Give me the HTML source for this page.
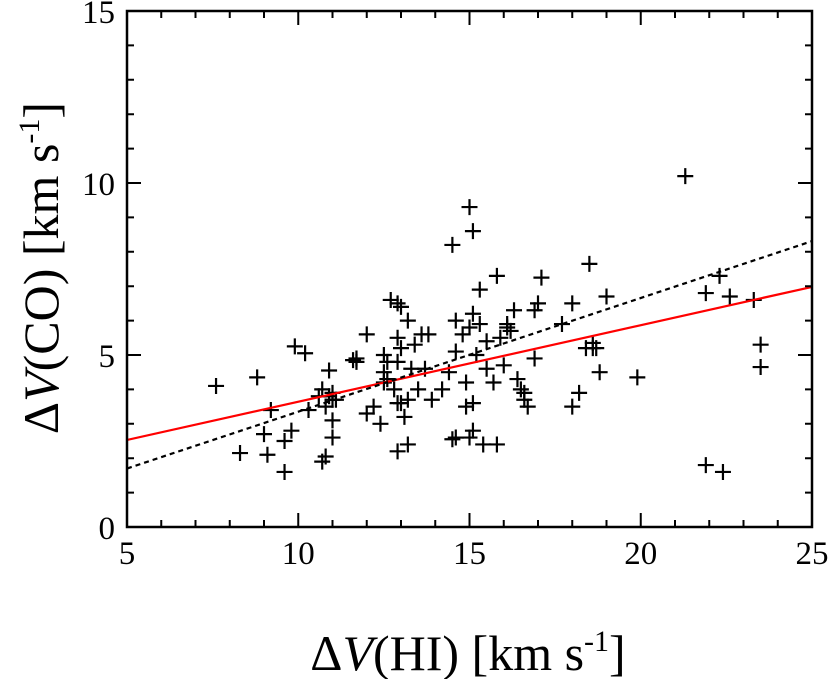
<!DOCTYPE html>
<html><head><meta charset="utf-8"><style>
body{margin:0;background:#fff;width:830px;height:679px;overflow:hidden}
svg text{font-family:"Liberation Serif",serif;fill:#000}
</style></head><body>
<svg id="chart" width="830" height="679" xmlns="http://www.w3.org/2000/svg">
<g id="marks"></g>
<g id="lines"></g>
<g id="axes"></g>
<text x="468" y="670" text-anchor="middle" font-size="50">Δ<tspan font-style="italic">V</tspan>(HI) [km s<tspan font-size="30" dy="-19">-1</tspan><tspan dy="19">]</tspan></text>
<text transform="translate(58,268) rotate(-90)" text-anchor="middle" font-size="50">Δ<tspan font-style="italic">V</tspan>(CO) [km s<tspan font-size="30" dy="-19">-1</tspan><tspan dy="19">]</tspan></text>
</svg>
<script>
const xVals=[7.6,8.8,8.3,9.0,9.1,9.2,9.6,9.6,9.9,10.2,9.8,10.3,10.6,10.8,10.7,10.7,10.8,10.9,10.9,11.0,11.0,11.1,11.0,11.0,11.6,11.7,12.0,12.0,12.2,12.4,12.5,12.5,12.6,12.5,12.7,12.9,13.0,12.8,12.9,12.9,13.0,12.9,13.0,13.2,13.1,12.9,13.2,13.3,13.4,13.5,13.6,13.8,13.7,13.9,14.4,14.5,14.6,14.5,14.6,14.6,14.8,14.9,14.9,15.0,15.1,15.1,15.0,15.1,15.1,15.0,15.3,15.3,15.4,15.2,15.5,15.5,15.7,15.8,15.8,15.9,16.0,16.1,16.2,16.3,16.4,16.5,16.6,16.6,16.7,16.9,16.9,17.0,17.1,17.7,18.0,18.0,18.2,18.4,18.5,18.6,18.6,18.7,18.8,19.0,19.9,21.3,21.9,22.3,22.6,23.3,23.5,23.5,21.9,22.4,11.7,12.6,14.2,13.2,16.1];
const yVals=[4.1,4.35,2.15,2.7,2.1,3.4,1.6,2.5,5.25,5.05,2.8,3.4,3.8,3.5,4.0,1.9,2.05,4.55,3.8,3.9,3.7,3.7,2.6,3.1,4.85,4.9,5.6,3.3,3.5,3.0,4.2,4.5,4.3,5.0,6.6,6.5,6.4,4.0,4.8,5.5,5.2,3.6,3.6,3.7,3.2,2.2,2.4,4.6,5.3,4.0,5.6,5.6,4.6,3.7,4.5,2.55,2.6,8.2,5.1,6.0,5.6,4.2,3.5,9.3,8.6,6.2,5.8,3.6,2.8,2.6,6.9,5.9,2.4,5.0,4.6,5.4,4.2,7.3,2.4,5.5,4.7,5.8,5.7,6.3,4.3,4.0,3.9,3.7,3.5,4.9,6.3,6.5,7.25,5.9,6.5,3.5,3.9,5.2,7.65,5.2,5.35,5.2,4.5,6.7,4.35,10.2,6.8,7.3,6.7,6.6,5.3,4.65,1.8,1.6,4.8,4.8,4.0,6.0,5.9];
const xTicks=[5,10,15,20,25];
const yTicks=[0,5,10,15];
const fitSolid=[2.53,6.98];
const fitDashed=[1.70,8.31];
const X0=127,X1=812,Y0=527,Y1=11;
const sx=v=>X0+(v-5)/20*(X1-X0);
const sy=v=>Y0-v/15*(Y0-Y1);
const NS="http://www.w3.org/2000/svg";
function mk(tag,attrs,parent){const e=document.createElementNS(NS,tag);for(const k in attrs)e.setAttribute(k,attrs[k]);parent.appendChild(e);return e;}
const marks=document.getElementById('marks'),lines=document.getElementById('lines'),axes=document.getElementById('axes');
for(let i=0;i<xVals.length;i++){
  const cx=sx(xVals[i]),cy=sy(yVals[i]);
  const p=mk('path',{d:`M${cx-8},${cy}H${cx+8}M${cx},${cy-8}V${cy+8}`,stroke:'#000','stroke-width':2.2,fill:'none'},marks);
  
  
}
const l1=mk('line',{x1:sx(5),y1:sy(fitSolid[0]),x2:sx(25),y2:sy(fitSolid[1]),stroke:'#f00','stroke-width':2.2},lines);


const l2=mk('line',{x1:sx(5),y1:sy(fitDashed[0]),x2:sx(25),y2:sy(fitDashed[1]),stroke:'#000','stroke-width':2.2,'stroke-dasharray':'5,4'},lines);


const fr=mk('rect',{x:X0,y:Y1,width:X1-X0,height:Y0-Y1,fill:'none',stroke:'#000','stroke-width':2.5},axes);


let d='';
for(let v=5;v<=25;v++){const L=v%5===0?14:7;const x=sx(v);d+=`M${x},${Y0}v${-L}M${x},${Y1}v${L}`;}
for(let v=0;v<=15;v++){const L=v%5===0?14:7;const y=sy(v);d+=`M${X0},${y}h${L}M${X1},${y}h${-L}`;}
const tk=mk('path',{d:d,stroke:'#000','stroke-width':2,fill:'none'},axes);


xTicks.forEach(v=>{const t=mk('text',{x:sx(v),y:Y0+37,'text-anchor':'middle','font-size':33},axes);t.textContent=v;

});
yTicks.forEach(v=>{const t=mk('text',{x:X0-12,y:sy(v)+12,'text-anchor':'end','font-size':33},axes);t.textContent=v;

});
</script>
</body></html>
